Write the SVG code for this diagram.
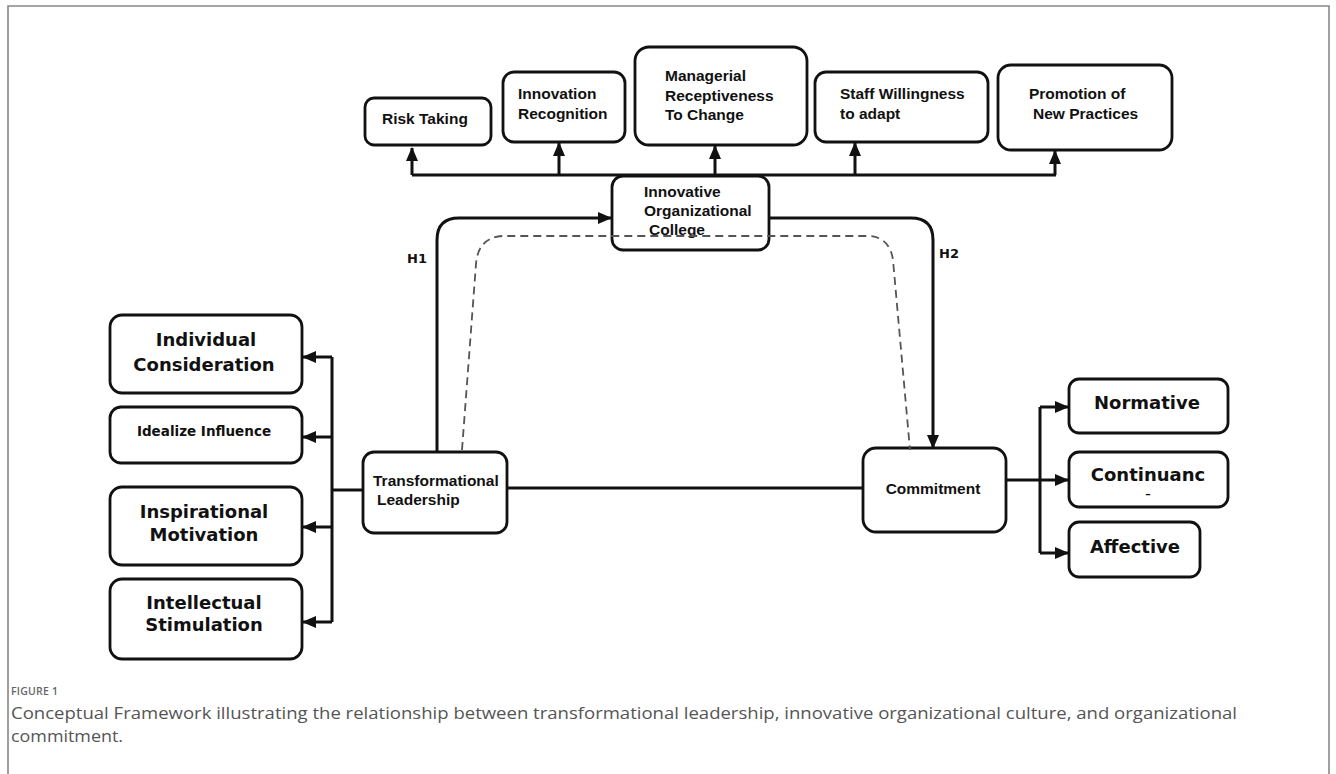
<svg xmlns="http://www.w3.org/2000/svg" width="1336" height="774" viewBox="0 0 1336 774">
<style>
.box{fill:#fff;stroke:#111;stroke-width:2.8}
.ln{fill:none;stroke:#111;stroke-width:3}
.dash{fill:none;stroke:#555;stroke-width:1.8;stroke-dasharray:8 5}
.ta{font-family:"Liberation Sans",Arial,sans-serif;font-weight:bold;font-size:15.5px;fill:#111}
.tv{font-family:"DejaVu Sans",Verdana,sans-serif;font-weight:bold;font-size:18px;fill:#111}
.cap{font-family:"Open Sans","Noto Sans",sans-serif;fill:#555}
</style>
<defs>
<marker id="ah" markerUnits="userSpaceOnUse" markerWidth="14" markerHeight="14" viewBox="0 0 14 14" refX="13" refY="7" orient="auto">
<path d="M0,1 L14,7 L0,13 Z" fill="#111"/>
</marker>
</defs>
<rect x="0" y="0" width="1336" height="774" fill="#fff"/>
<path d="M8,774 V6 H1329 V774" fill="none" stroke="#888" stroke-width="1.6"/>

<g id="risk-taking">
<rect class="box" x="365" y="98" width="126" height="47" rx="9"/>
<text class="ta" x="382" y="123.5">Risk Taking</text>
</g>
<g id="innovation-recognition">
<rect class="box" x="503" y="72" width="122" height="70" rx="11"/>
<text class="ta" x="518" y="98.5">Innovation</text>
<text class="ta" x="518" y="118.5">Recognition</text>
</g>
<g id="managerial-receptiveness">
<rect class="box" x="635" y="47" width="172" height="98" rx="14"/>
<text class="ta" x="665" y="81">Managerial</text>
<text class="ta" x="665" y="100.5">Receptiveness</text>
<text class="ta" x="665" y="119.5">To Change</text>
</g>
<g id="staff-willingness">
<rect class="box" x="815" y="72" width="173" height="70" rx="11"/>
<text class="ta" x="840" y="98.5">Staff Willingness</text>
<text class="ta" x="840" y="118.5">to adapt</text>
</g>
<g id="promotion-new-practices">
<rect class="box" x="998" y="65" width="174" height="85" rx="13"/>
<text class="ta" x="1029" y="98.5">Promotion of</text>
<text class="ta" x="1033" y="118.5">New Practices</text>
</g>
<g id="innovative-organizational-college">
<rect class="box" x="612" y="176" width="157" height="74" rx="11"/>
<text class="ta" x="644" y="196.5">Innovative</text>
<text class="ta" x="644" y="215.5">Organizational</text>
<text class="ta" x="649" y="234.5">College</text>
</g>
<g id="h-labels">
<text x="407" y="263" style="font-family:'DejaVu Sans',sans-serif;font-weight:bold;font-size:13px;fill:#111">H1</text>
<text x="939" y="258" style="font-family:'DejaVu Sans',sans-serif;font-weight:bold;font-size:13px;fill:#111">H2</text>
</g>
<g id="transformational-leadership">
<rect class="box" x="363" y="452" width="144" height="81" rx="11"/>
<text class="ta" x="373" y="485.5">Transformational</text>
<text class="ta" x="377" y="504.5">Leadership</text>
</g>
<g id="commitment">
<rect class="box" x="863" y="448" width="143" height="84" rx="13"/>
<text class="ta" x="933" y="493.5" text-anchor="middle">Commitment</text>
</g>
<g id="individual-consideration">
<rect class="box" x="110" y="315" width="192" height="78" rx="12"/>
<text class="tv" x="206" y="346" text-anchor="middle">Individual</text>
<text class="tv" x="204" y="371" text-anchor="middle">Consideration</text>
</g>
<g id="idealize-influence">
<rect class="box" x="110" y="407" width="192" height="56" rx="11"/>
<text class="tv" x="204" y="436" text-anchor="middle" style="font-size:13.5px">Idealize Influence</text>
</g>
<g id="inspirational-motivation">
<rect class="box" x="110" y="487" width="192" height="78" rx="12"/>
<text class="tv" x="204" y="518" text-anchor="middle">Inspirational</text>
<text class="tv" x="204" y="541" text-anchor="middle">Motivation</text>
</g>
<g id="intellectual-stimulation">
<rect class="box" x="110" y="579" width="192" height="80" rx="12"/>
<text class="tv" x="204" y="609" text-anchor="middle">Intellectual</text>
<text class="tv" x="204" y="631" text-anchor="middle">Stimulation</text>
</g>
<g id="normative">
<rect class="box" x="1069" y="379" width="159" height="54" rx="10"/>
<text class="tv" x="1147" y="409" text-anchor="middle">Normative</text>
</g>
<g id="continuance">
<rect class="box" x="1069" y="452" width="159" height="55" rx="10"/>
<text class="tv" x="1148" y="481" text-anchor="middle">Continuanc</text>
<text class="tv" x="1148" y="498" text-anchor="middle" style="font-size:11px">–</text>
</g>
<g id="affective">
<rect class="box" x="1069" y="522" width="131" height="55" rx="10"/>
<text class="tv" x="1135" y="553" text-anchor="middle">Affective</text>
</g>

<g id="connectors">
<path class="ln" d="M412,175 H1056"/>
<path class="ln" d="M412,175 V148" marker-end="url(#ah)"/>
<path class="ln" d="M559,175 V143" marker-end="url(#ah)"/>
<path class="ln" d="M715,176 V146" marker-end="url(#ah)"/>
<path class="ln" d="M855,175 V143" marker-end="url(#ah)"/>
<path class="ln" d="M1055,175 V151" marker-end="url(#ah)"/>
<path class="ln" d="M437,451 V240 Q437,218 459,218 H611" marker-end="url(#ah)"/>
<path class="ln" d="M769,218 H911 Q933,218 933,240 V448" marker-end="url(#ah)"/>
<path class="dash" d="M462,450 L476,264 Q478,238 502,236 H870 Q890,238 893,260 L910,450"/>
<path class="ln" d="M507,488 H863"/>
<path class="ln" d="M363,490 H332"/>
<path class="ln" d="M332,357 V622"/>
<path class="ln" d="M332,357 H303" marker-end="url(#ah)"/>
<path class="ln" d="M332,437 H303" marker-end="url(#ah)"/>
<path class="ln" d="M332,527 H303" marker-end="url(#ah)"/>
<path class="ln" d="M332,622 H303" marker-end="url(#ah)"/>
<path class="ln" d="M1006,480 H1040"/>
<path class="ln" d="M1040,407 V553"/>
<path class="ln" d="M1040,407 H1068" marker-end="url(#ah)"/>
<path class="ln" d="M1040,480 H1068" marker-end="url(#ah)"/>
<path class="ln" d="M1040,553 H1068" marker-end="url(#ah)"/>
</g>

<g id="caption">
<text class="cap" x="11" y="695" style="font-size:10.5px;font-weight:600;fill:#666;letter-spacing:0.2px">FIGURE 1</text>
<text class="cap" x="11" y="719" style="font-size:17px" textLength="1226" lengthAdjust="spacingAndGlyphs">Conceptual Framework illustrating the relationship between transformational leadership, innovative organizational culture, and organizational</text>
<text class="cap" x="11" y="742" style="font-size:17px" textLength="112" lengthAdjust="spacingAndGlyphs">commitment.</text>
</g>
</svg>
